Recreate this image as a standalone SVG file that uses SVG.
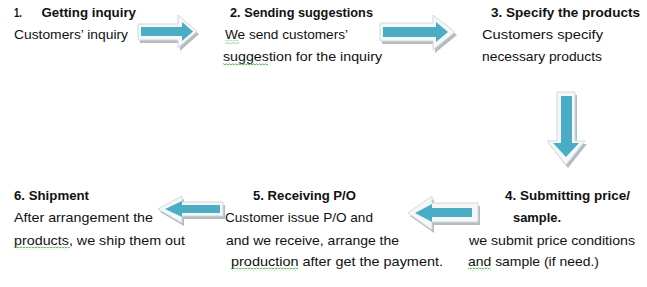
<svg xmlns="http://www.w3.org/2000/svg" width="647" height="287" viewBox="0 0 647 287">
<defs>
<style>
text{font-family:"Liberation Sans",Arial,sans-serif;font-size:13.5px;fill:#111}
.h{font-weight:bold}
.sh{fill:#b3bcc1}
.out{fill:#f5f7f8;stroke:#d3d9dc;stroke-width:1}
.blue{fill:#4bacc6}
.sq{fill:url(#squig)}
</style>
<pattern id="squig" width="3" height="3" patternUnits="userSpaceOnUse">
<path d="M0,2 L1.5,0.8 L3,2" fill="none" stroke="#3aa03a" stroke-width="0.8"/>
</pattern>
</defs>
<rect width="647" height="287" fill="#fff"/>

<g id="connectors">
<g id="arrow-1-2">
<polygon class="sh" points="140,27 180,27 180,18 199,34 180,51 180,43 140,43"/>
<polygon class="out" points="138,24 178,24 178,15 197,31.5 178,48 178,40 138,40"/>
<polygon class="blue" points="141,27 182,27 182,22 193,31.5 182,41 182,36 141,36"/>
</g>
<g id="arrow-2-3">
<polygon class="sh" points="382,26 435,26 435,18 457,35 435,53 435,44 382,44"/>
<polygon class="out" points="380,23 433,23 433,15 455,32 433,50 433,41 380,41"/>
<polygon class="blue" points="383,27 436,27 436,22 448,32 436,42 436,37 383,37"/>
</g>
<g id="arrow-3-4">
<polygon class="sh" points="559,95 577,95 577,144 587,144 568,168 549,144 559,144"/>
<polygon class="out" points="557,92 575,92 575,141 585,141 566,165 547,141 557,141"/>
<polygon class="blue" points="561,96 572,96 572,143 579,143 566,157 553,143 561,143"/>
</g>
<g id="arrow-4-5">
<polygon class="sh" points="480,206 434,206 434,199 410,216 434,233 434,225 480,225"/>
<polygon class="out" points="478,203 432,203 432,196 408,213 432,230 432,222 478,222"/>
<polygon class="blue" points="472,208 432,208 432,204 415,213 432,222 432,217 472,217"/>
</g>
<g id="arrow-5-6">
<polygon class="sh" points="225,205 184,205 184,199 160,212 184,226 184,219 225,219"/>
<polygon class="out" points="223,202 182,202 182,196 158,209 182,223 182,216 223,216"/>
<polygon class="blue" points="220,205 182,205 182,201 165,209 182,217 182,213 220,213"/>
</g>
</g>

<g id="step1">
<text class="h" x="14" y="17" textLength="8" lengthAdjust="spacingAndGlyphs">1.</text>
<text class="h" x="41.5" y="17" textLength="94.5" lengthAdjust="spacingAndGlyphs">Getting inquiry</text>
<text x="14" y="39" textLength="114" lengthAdjust="spacingAndGlyphs">Customers’ inquiry</text>
</g>

<g id="step2">
<text class="h" x="230" y="17" textLength="143" lengthAdjust="spacingAndGlyphs">2. Sending suggestions</text>
<text x="225" y="39" textLength="123" lengthAdjust="spacingAndGlyphs">We send customers’</text>
<text x="223" y="61" textLength="159" lengthAdjust="spacingAndGlyphs">suggestion for the inquiry</text>
<rect class="sq" x="225" y="40.5" width="14" height="3"/>
<rect class="sq" x="223" y="62.5" width="45" height="3"/>
</g>

<g id="step3">
<text class="h" x="491" y="17" textLength="149" lengthAdjust="spacingAndGlyphs">3. Specify the products</text>
<text x="482" y="39" textLength="121" lengthAdjust="spacingAndGlyphs">Customers specify</text>
<text x="482" y="61" textLength="120" lengthAdjust="spacingAndGlyphs">necessary products</text>
</g>

<g id="step4">
<text class="h" x="505" y="200" textLength="125" lengthAdjust="spacingAndGlyphs">4. Submitting price/</text>
<text class="h" x="513" y="222" textLength="48" lengthAdjust="spacingAndGlyphs">sample.</text>
<text x="469" y="245" textLength="166" lengthAdjust="spacingAndGlyphs">we submit price conditions</text>
<text x="468" y="266" textLength="131" lengthAdjust="spacingAndGlyphs">and sample (if need.)</text>
<rect class="sq" x="468" y="267.5" width="23" height="3"/>
</g>

<g id="step5">
<text class="h" x="253" y="200" textLength="103" lengthAdjust="spacingAndGlyphs">5. Receiving P/O</text>
<text x="225" y="222" textLength="148" lengthAdjust="spacingAndGlyphs">Customer issue P/O and</text>
<text x="226" y="245" textLength="173" lengthAdjust="spacingAndGlyphs">and we receive, arrange the</text>
<text x="231" y="266" textLength="212" lengthAdjust="spacingAndGlyphs">production after get the payment.</text>
<rect class="sq" x="231" y="267.5" width="67" height="3"/>
</g>

<g id="step6">
<text class="h" x="14" y="200" textLength="75" lengthAdjust="spacingAndGlyphs">6. Shipment</text>
<text x="14" y="222" textLength="139" lengthAdjust="spacingAndGlyphs">After arrangement the</text>
<text x="14" y="245" textLength="171" lengthAdjust="spacingAndGlyphs">products, we ship them out</text>
<rect class="sq" x="14" y="246.5" width="56" height="3"/>
</g>
</svg>
